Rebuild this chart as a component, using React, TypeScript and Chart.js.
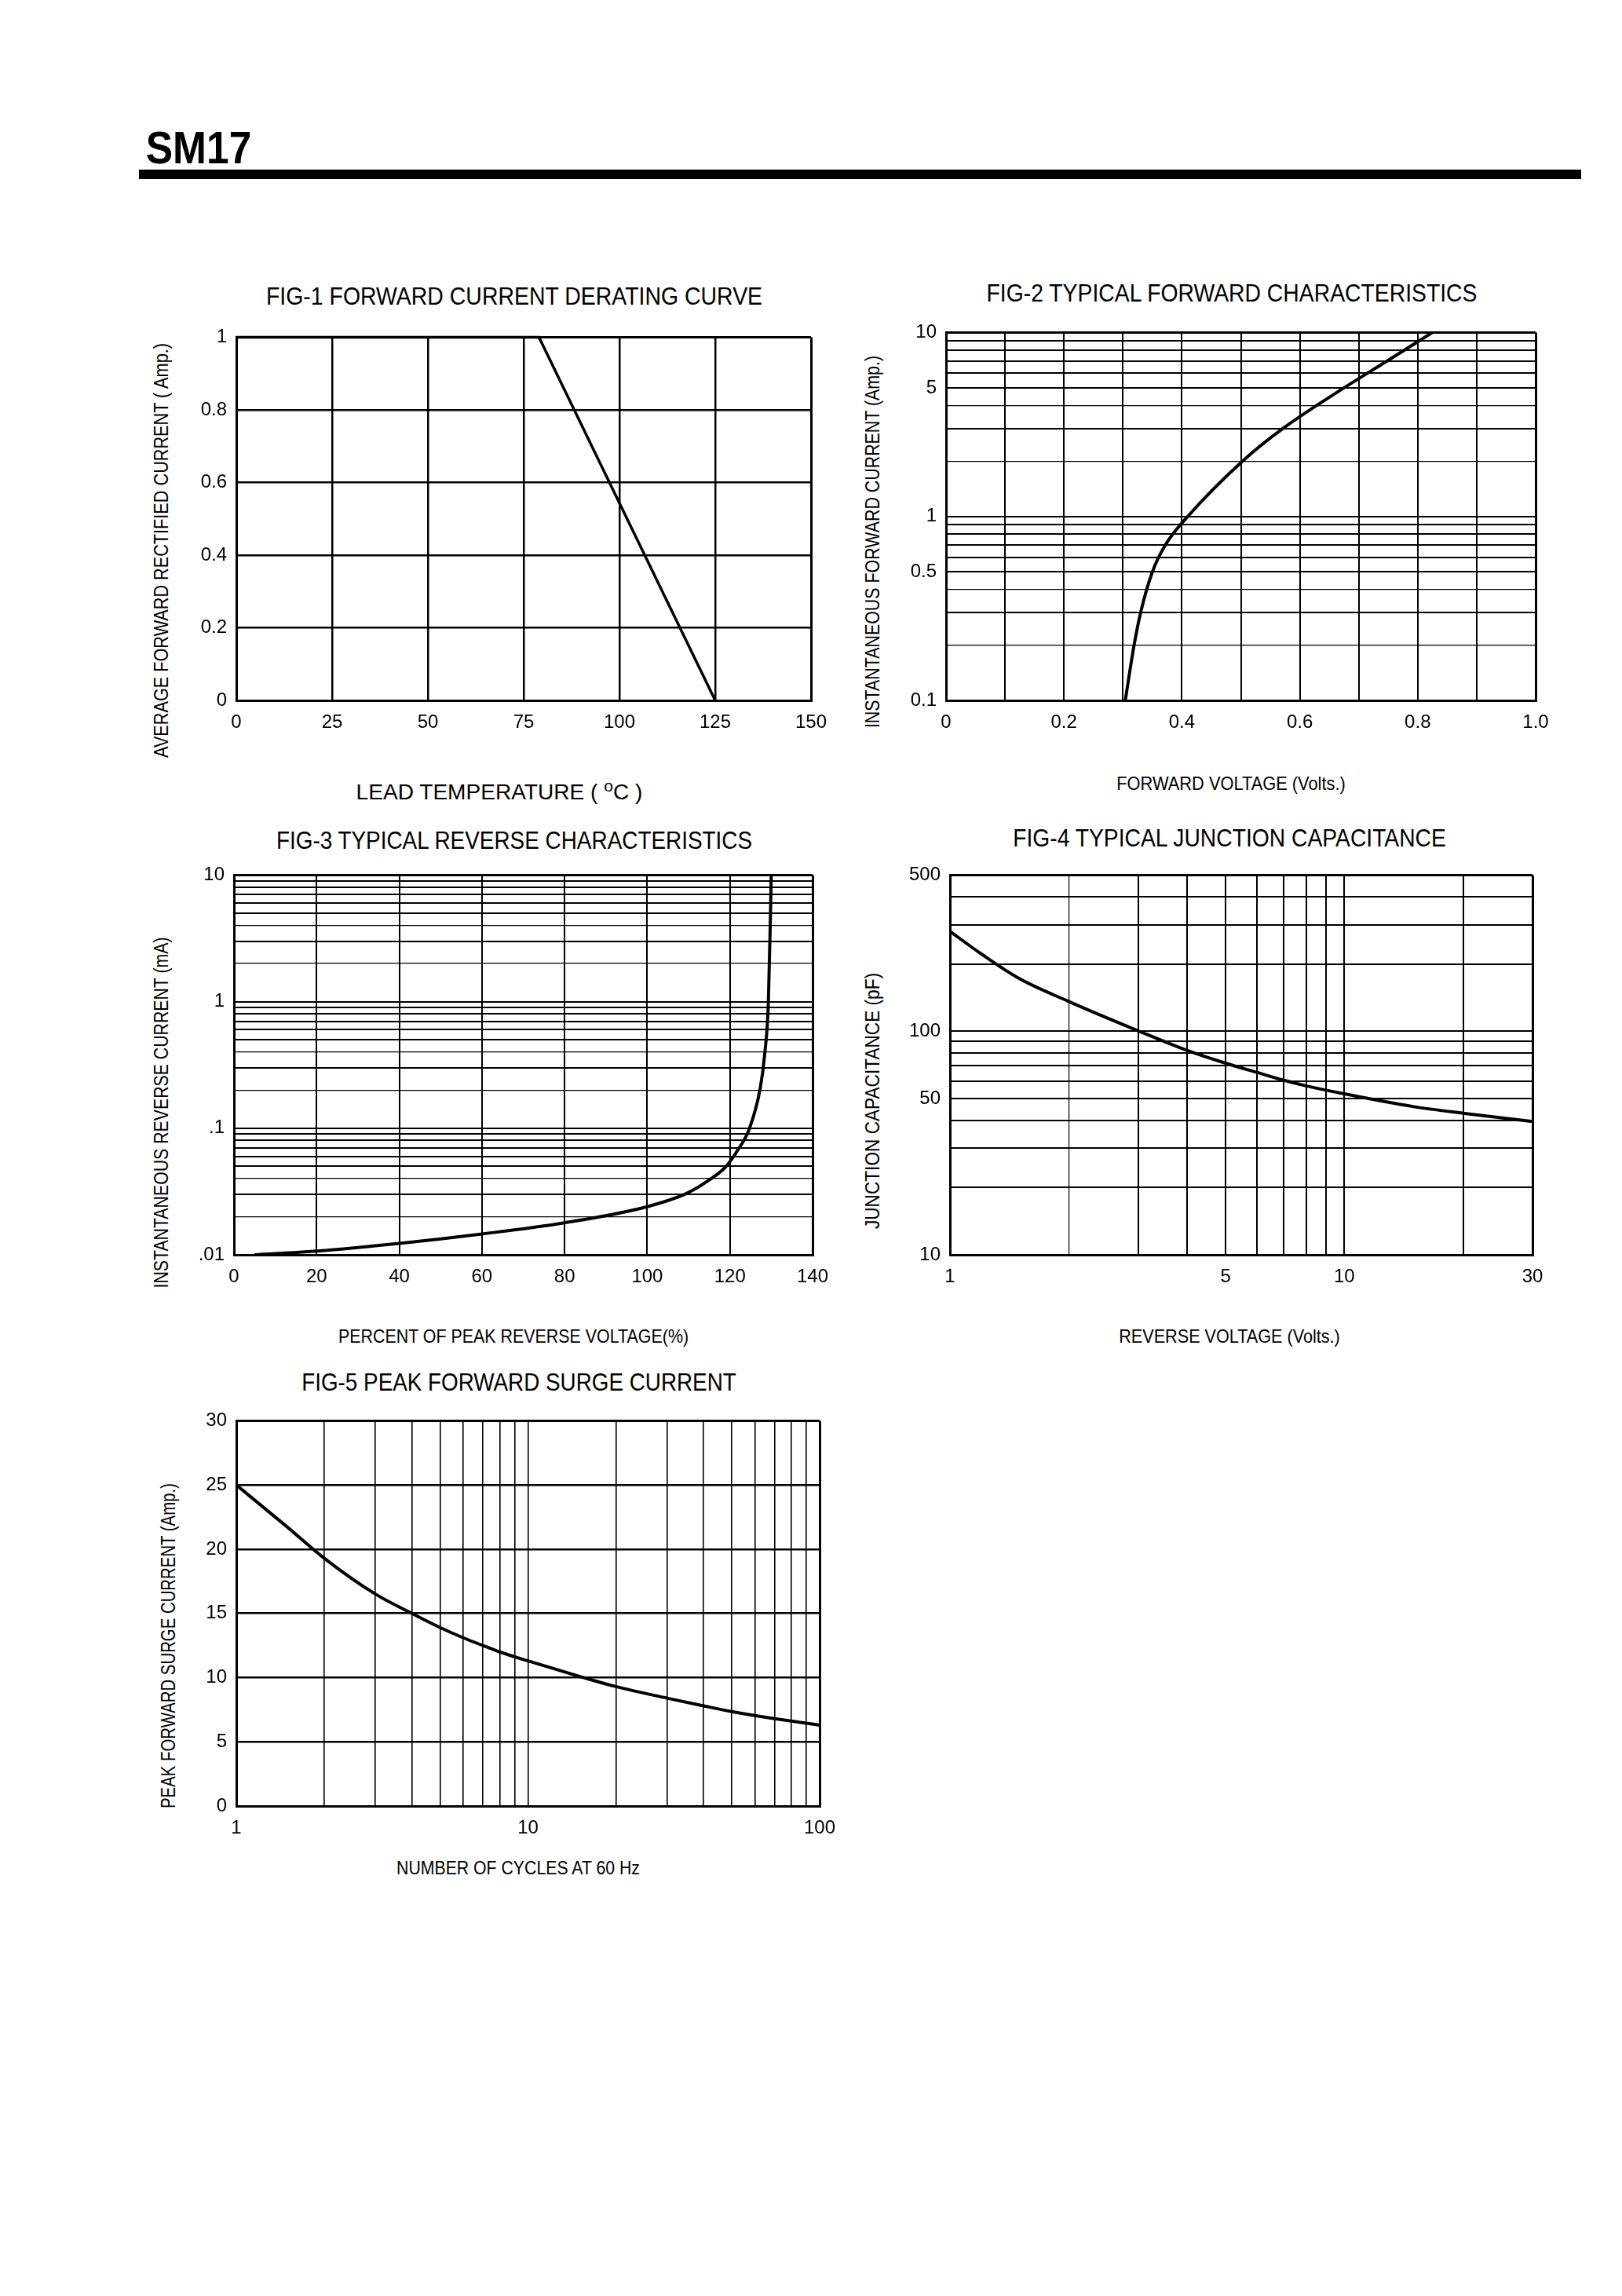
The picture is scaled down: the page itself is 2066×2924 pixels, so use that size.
import React, { useEffect, useLayoutEffect, useRef, useState } from 'react';
import { Chart, registerables } from 'chart.js';
Chart.register(...registerables);

const FAMILY = "'Liberation Sans Narrow', 'Liberation Sans', Arial, sans-serif";
const TEXT_FAMILY = "'Liberation Sans', Arial, sans-serif";

// ---------- FIG-1 Forward current derating curve ----------
const fig1Temp = [0, 79, 125];
const fig1Current = [1, 1, 0];
const fig1XGrid = [0, 25, 50, 75, 100, 125, 150];
const fig1XLabels = ['0', '25', '50', '75', '100', '125', '150'];
const fig1YGrid = [0, 0.2, 0.4, 0.6, 0.8, 1];
const fig1YLabels = ['0', '0.2', '0.4', '0.6', '0.8', '1'];

// ---------- FIG-2 Typical forward characteristics ----------
const fig2Voltage = [0.304, 0.319, 0.33, 0.35, 0.372, 0.41, 0.503, 0.571, 0.675, 0.748, 0.825];
const fig2Current = [0.1, 0.2, 0.3, 0.5, 0.7, 1, 2, 3, 5, 7, 10];
const fig2XGrid = [0, 0.1, 0.2, 0.3, 0.4, 0.5, 0.6, 0.7, 0.8, 0.9, 1.0];
const fig2XLabelVals = [0, 0.2, 0.4, 0.6, 0.8, 1.0];
const fig2XLabels = ['0', '0.2', '0.4', '0.6', '0.8', '1.0'];
const fig2YGrid = [0.1, 0.2, 0.3, 0.4, 0.5, 0.6, 0.7, 0.8, 0.9, 1, 2, 3, 4, 5, 6, 7, 8, 9, 10];
const fig2YLabelVals = [0.1, 0.5, 1, 5, 10];
const fig2YLabels = ['0.1', '0.5', '1', '5', '10'];

// ---------- FIG-3 Typical reverse characteristics ----------
const fig3Percent = [5, 20, 40, 60, 80, 100, 109.4, 115, 119.1, 122, 124.6, 127.3, 128.4, 129.3, 129.8, 130.0];
const fig3Current = [0.01, 0.0107, 0.0123, 0.0146, 0.0179, 0.024, 0.0304, 0.039, 0.05, 0.068, 0.097, 0.204, 0.38, 0.98, 4.7, 10];
const fig3XGrid = [0, 20, 40, 60, 80, 100, 120, 140];
const fig3XLabels = ['0', '20', '40', '60', '80', '100', '120', '140'];
const fig3YGrid = [0.01, 0.02, 0.03, 0.04, 0.05, 0.06, 0.07, 0.08, 0.09, 0.1, 0.2, 0.3, 0.4, 0.5, 0.6, 0.7, 0.8, 0.9, 1, 2, 3, 4, 5, 6, 7, 8, 9, 10];
const fig3YLabelVals = [0.01, 0.1, 1, 10];
const fig3YLabels = ['.01', '.1', '1', '10'];

// ---------- FIG-4 Typical junction capacitance ----------
const fig4Voltage = [1, 1.2, 1.5, 2, 3, 4, 5, 6, 7, 8, 10, 15, 20, 30];
const fig4Capacitance = [280, 222, 172, 136, 100.5, 82, 72, 65.5, 60.5, 57, 52.5, 46, 43, 39.5];
const fig4XGrid = [1, 2, 3, 4, 5, 6, 7, 8, 9, 10, 20, 30];
const fig4XLabelVals = [1, 5, 10, 30];
const fig4XLabels = ['1', '5', '10', '30'];
const fig4YGrid = [10, 20, 30, 40, 50, 60, 70, 80, 90, 100, 200, 300, 400, 500];
const fig4YLabelVals = [10, 50, 100, 500];
const fig4YLabels = ['10', '50', '100', '500'];

// ---------- FIG-5 Peak forward surge current ----------
const fig5Cycles = [1, 1.5, 2, 3, 4, 5, 6, 7, 8, 10, 15, 20, 30, 40, 50, 70, 100];
const fig5Surge = [25, 21.7, 19.3, 16.5, 15.0, 13.9, 13.1, 12.5, 12.0, 11.3, 10.1, 9.3, 8.4, 7.8, 7.35, 6.8, 6.3];
const fig5XGrid = [1, 2, 3, 4, 5, 6, 7, 8, 9, 10, 20, 30, 40, 50, 60, 70, 80, 90, 100];
const fig5XLabelVals = [1, 10, 100];
const fig5XLabels = ['1', '10', '100'];
const fig5YGrid = [0, 5, 10, 15, 20, 25, 30];
const fig5YLabels = ['0', '5', '10', '15', '20', '25', '30'];

type Box = { L: number; R: number; T: number; B: number };
type Spec = {
  box: Box;
  xType: 'linear' | 'logarithmic';
  yType: 'linear' | 'logarithmic';
  xMin: number; xMax: number; yMin: number; yMax: number;
  xGrid: number[]; yGrid: number[];
  xLabelVals: number[]; xLabelTexts: string[];
  yLabelVals: number[]; yLabelTexts: string[];
  xs: number[]; ys: number[];
  xGridWidth: (v: number) => number;
  yGridWidth: (v: number) => number;
  curveWidth: number;
  smooth: boolean;
};

const YW = 90;
const XH = 50;
const PR = 40;
const PT = 25;

function labelFor(vals: number[], texts: string[], v: number) {
  const i = vals.findIndex((a) => Math.abs(a - v) <= 1e-6 * Math.max(1, Math.abs(a)));
  return i >= 0 ? texts[i] : '';
}

function Plot({ spec }: { spec: Spec }) {
  const ref = useRef<HTMLCanvasElement>(null);
  const w = spec.box.R - spec.box.L + YW + PR;
  const h = spec.box.B - spec.box.T + PT + XH;
  useEffect(() => {
    if (!ref.current) return;
    const edgeX = (v: number) => Math.abs(v - spec.xMin) < 1e-9 || Math.abs(v - spec.xMax) < 1e-9;
    const edgeY = (v: number) => Math.abs(v - spec.yMin) < 1e-9 || Math.abs(v - spec.yMax) < 1e-9;
    const chart = new Chart(ref.current, {
      type: 'scatter',
      data: {
        datasets: [
          {
            data: spec.xs.map((x, i) => ({ x, y: spec.ys[i] })),
            showLine: true,
            borderColor: '#000',
            borderWidth: spec.curveWidth,
            pointRadius: 0,
            tension: 0,
            cubicInterpolationMode: spec.smooth ? 'monotone' : 'default',
            clip: 6,
          } as any,
        ],
      },
      options: {
        animation: false,
        responsive: false,
        devicePixelRatio: 1,
        layout: { padding: { left: 0, right: PR, top: PT, bottom: 0 } },
        plugins: { legend: { display: false }, tooltip: { enabled: false }, title: { display: false } },
        scales: {
          x: {
            type: spec.xType,
            min: spec.xMin,
            max: spec.xMax,
            position: 'bottom',
            afterBuildTicks: (s: any) => {
              s.ticks = spec.xGrid.map((v) => ({ value: v }));
            },
            afterFit: (s: any) => {
              s.height = XH;
            },
            ticks: {
              autoSkip: false,
              maxRotation: 0,
              minRotation: 0,
              color: '#000',
              padding: 14,
              font: { family: FAMILY, size: 24 },
              callback: (v: any) => labelFor(spec.xLabelVals, spec.xLabelTexts, Number(v)),
            },
            grid: {
              color: '#000',
              drawTicks: false,
              lineWidth: (ctx: any) => {
                const v = ctx.tick ? ctx.tick.value : 0;
                return edgeX(v) ? 3 : spec.xGridWidth(v);
              },
            },
            border: { display: true, color: '#000', width: 3 },
          } as any,
          y: {
            type: spec.yType,
            min: spec.yMin,
            max: spec.yMax,
            position: 'left',
            afterBuildTicks: (s: any) => {
              s.ticks = spec.yGrid.map((v) => ({ value: v }));
            },
            afterFit: (s: any) => {
              s.width = YW;
            },
            ticks: {
              autoSkip: false,
              color: '#000',
              padding: 12,
              font: { family: FAMILY, size: 24 },
              callback: (v: any) => labelFor(spec.yLabelVals, spec.yLabelTexts, Number(v)),
            },
            grid: {
              color: '#000',
              drawTicks: false,
              lineWidth: (ctx: any) => {
                const v = ctx.tick ? ctx.tick.value : 0;
                return edgeY(v) ? 3 : spec.yGridWidth(v);
              },
            },
            border: { display: true, color: '#000', width: 3 },
          } as any,
        },
      },
    });
    return () => chart.destroy();
  }, [spec]);
  return (
    <canvas
      ref={ref}
      width={w}
      height={h}
      style={{ position: 'absolute', left: spec.box.L - YW, top: spec.box.T - PT, width: w, height: h }}
    />
  );
}

function FitText({
  cx, cy, width, size, weight = 400, rotate = false, family = TEXT_FAMILY, children,
}: {
  cx: number; cy: number; width: number; size: number; weight?: number; rotate?: boolean; family?: string; children: React.ReactNode;
}) {
  const ref = useRef<HTMLSpanElement>(null);
  const [s, setS] = useState(1);
  useLayoutEffect(() => {
    if (ref.current) {
      const nat = ref.current.offsetWidth;
      if (nat > 0) setS(width / nat);
    }
  }, [width]);
  return (
    <span
      ref={ref}
      style={{
        position: 'absolute',
        left: cx,
        top: cy,
        transform: `translate(-50%, -50%) ${rotate ? 'rotate(-90deg) ' : ''}scaleX(${s})`,
        transformOrigin: 'center center',
        whiteSpace: 'nowrap',
        fontSize: size,
        fontWeight: weight,
        fontFamily: family,
        lineHeight: 1,
        color: '#000',
      }}
    >
      {children}
    </span>
  );
}

const lead24 = (v: number) => {
  const m = v / Math.pow(10, Math.floor(Math.log10(v) + 1e-9));
  return Math.abs(m - 2) < 1e-6 || Math.abs(m - 4) < 1e-6 ? 1.2 : 2;
};

const spec1: Spec = {
  box: { L: 301, R: 1033, T: 428, B: 892 },
  xType: 'linear', yType: 'linear',
  xMin: 0, xMax: 150, yMin: 0, yMax: 1,
  xGrid: fig1XGrid, yGrid: fig1YGrid,
  xLabelVals: fig1XGrid, xLabelTexts: fig1XLabels,
  yLabelVals: fig1YGrid, yLabelTexts: fig1YLabels,
  xs: fig1Temp, ys: fig1Current,
  xGridWidth: () => 2.5, yGridWidth: () => 2.5,
  curveWidth: 3.5, smooth: false,
};

const spec2: Spec = {
  box: { L: 1205, R: 1956, T: 422, B: 892 },
  xType: 'linear', yType: 'logarithmic',
  xMin: 0, xMax: 1, yMin: 0.1, yMax: 10,
  xGrid: fig2XGrid, yGrid: fig2YGrid,
  xLabelVals: fig2XLabelVals, xLabelTexts: fig2XLabels,
  yLabelVals: fig2YLabelVals, yLabelTexts: fig2YLabels,
  xs: fig2Voltage, ys: fig2Current,
  xGridWidth: () => 2, yGridWidth: lead24,
  curveWidth: 4, smooth: true,
};

const spec3: Spec = {
  box: { L: 298, R: 1035, T: 1113, B: 1598 },
  xType: 'linear', yType: 'logarithmic',
  xMin: 0, xMax: 140, yMin: 0.01, yMax: 10,
  xGrid: fig3XGrid, yGrid: fig3YGrid,
  xLabelVals: fig3XGrid, xLabelTexts: fig3XLabels,
  yLabelVals: fig3YLabelVals, yLabelTexts: fig3YLabels,
  xs: fig3Percent, ys: fig3Current,
  xGridWidth: () => 2, yGridWidth: lead24,
  curveWidth: 4, smooth: true,
};

const spec4: Spec = {
  box: { L: 1210, R: 1952, T: 1113, B: 1598 },
  xType: 'logarithmic', yType: 'logarithmic',
  xMin: 1, xMax: 30, yMin: 10, yMax: 500,
  xGrid: fig4XGrid, yGrid: fig4YGrid,
  xLabelVals: fig4XLabelVals, xLabelTexts: fig4XLabels,
  yLabelVals: fig4YLabelVals, yLabelTexts: fig4YLabels,
  xs: fig4Voltage, ys: fig4Capacitance,
  xGridWidth: (v) => (v === 2 ? 1.2 : 2), yGridWidth: () => 2,
  curveWidth: 4, smooth: true,
};

const spec5: Spec = {
  box: { L: 301, R: 1044, T: 1808, B: 2300 },
  xType: 'logarithmic', yType: 'linear',
  xMin: 1, xMax: 100, yMin: 0, yMax: 30,
  xGrid: fig5XGrid, yGrid: fig5YGrid,
  xLabelVals: fig5XLabelVals, xLabelTexts: fig5XLabels,
  yLabelVals: fig5YGrid, yLabelTexts: fig5YLabels,
  xs: fig5Cycles, ys: fig5Surge,
  xGridWidth: () => 1.6, yGridWidth: () => 2.5,
  curveWidth: 4, smooth: true,
};

export default function App() {
  return (
    <div style={{ position: 'absolute', left: 0, top: 0, width: 2066, height: 2924, background: '#fff', overflow: 'hidden' }}>
      <FitText cx={253} cy={188} width={135} size={58} weight={700}>SM17</FitText>
      <div style={{ position: 'absolute', left: 177, top: 216, width: 1837, height: 12, background: '#000' }} />

      {/* FIG-1 */}
      <FitText cx={655} cy={377} width={632} size={32}>FIG-1 FORWARD CURRENT DERATING CURVE</FitText>
      <FitText cx={205} cy={701} width={528} size={25} rotate>AVERAGE FORWARD RECTIFIED CURRENT ( Amp.)</FitText>
      <FitText cx={636} cy={1007} width={365} size={27}>
        LEAD TEMPERATURE ( <sup style={{ fontSize: '0.75em', verticalAlign: '0.45em' }}>o</sup>C )
      </FitText>
      <Plot spec={spec1} />

      {/* FIG-2 */}
      <FitText cx={1569} cy={373} width={625} size={32}>FIG-2 TYPICAL FORWARD CHARACTERISTICS</FitText>
      <FitText cx={1111} cy={690} width={474} size={25} rotate>INSTANTANEOUS FORWARD CURRENT (Amp.)</FitText>
      <FitText cx={1568} cy={998} width={291} size={24}>FORWARD VOLTAGE (Volts.)</FitText>
      <Plot spec={spec2} />

      {/* FIG-3 */}
      <FitText cx={655} cy={1070} width={606} size={32}>FIG-3 TYPICAL REVERSE CHARACTERISTICS</FitText>
      <FitText cx={205} cy={1417} width={447} size={25} rotate>INSTANTANEOUS REVERSE CURRENT (mA)</FitText>
      <FitText cx={654} cy={1702} width={446} size={24}>PERCENT OF PEAK REVERSE VOLTAGE(%)</FitText>
      <Plot spec={spec3} />

      {/* FIG-4 */}
      <FitText cx={1566} cy={1067} width={552} size={32}>FIG-4 TYPICAL JUNCTION CAPACITANCE</FitText>
      <FitText cx={1111} cy={1402} width={326} size={25} rotate>JUNCTION CAPACITANCE (pF)</FitText>
      <FitText cx={1566} cy={1702} width={282} size={24}>REVERSE VOLTAGE (Volts.)</FitText>
      <Plot spec={spec4} />

      {/* FIG-5 */}
      <FitText cx={661} cy={1760} width={554} size={32}>FIG-5 PEAK FORWARD SURGE CURRENT</FitText>
      <FitText cx={214} cy={2096} width={414} size={25} rotate>PEAK FORWARD SURGE CURRENT (Amp.)</FitText>
      <FitText cx={660} cy={2379} width={310} size={24}>NUMBER OF CYCLES AT 60 Hz</FitText>
      <Plot spec={spec5} />
    </div>
  );
}
